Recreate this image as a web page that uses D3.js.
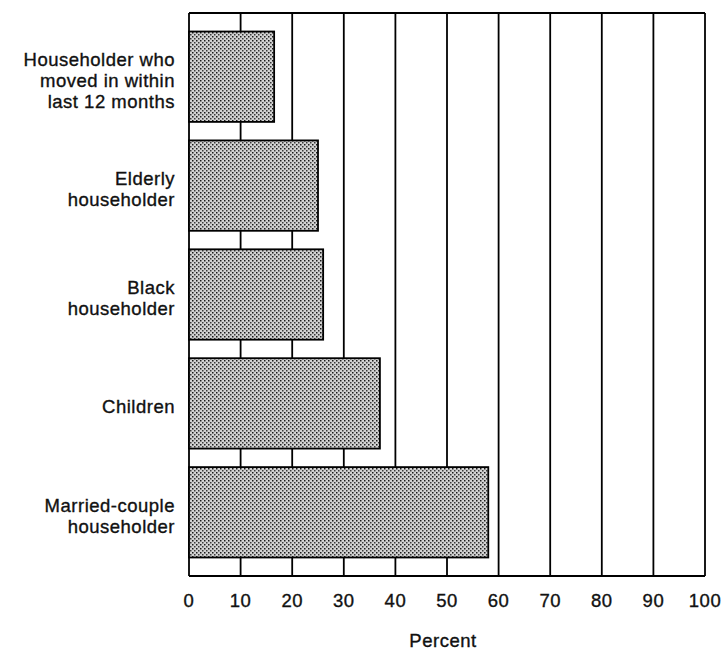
<!DOCTYPE html>
<html>
<head>
<meta charset="utf-8">
<script src="https://cdn.jsdelivr.net/npm/d3@7"></script>
<style>
  body { margin: 0; background: #fff; }
  text { font-family: "Liberation Sans", Arial, sans-serif; fill: #111; stroke: #111; stroke-width: 0.35px; }
</style>
</head>
<body>
<div id="chart"></div>
<script>
var categories = [
  ['Householder who', 'moved in within', 'last 12 months'],
  ['Elderly', 'householder'],
  ['Black', 'householder'],
  ['Children'],
  ['Married-couple', 'householder']
]
var values = [16.5, 25, 26, 37, 58]
var ticks = [0, 10, 20, 30, 40, 50, 60, 70, 80, 90, 100]

var width = 724, height = 651
var margin = {top: 13, right: 19, bottom: 75, left: 189}

var svg = d3.select('#chart').append('svg')
  .attr('width', width).attr('height', height)

var defs = svg.append('defs')
var pat = defs.append('pattern')
  .attr('id', 'stipple')
  .attr('patternUnits', 'userSpaceOnUse')
  .attr('width', 4).attr('height', 4)
pat.append('rect').attr('width', 4).attr('height', 4).attr('fill', '#d2d2d2')
pat.append('rect').attr('x', 0).attr('y', 0).attr('width', 1.5).attr('height', 1.5).attr('fill', '#1a1a1a')
pat.append('rect').attr('x', 2).attr('y', 2).attr('width', 1.5).attr('height', 1.5).attr('fill', '#3a3a3a')

var x = d3.scaleLinear().domain([0, 100]).range([margin.left, width - margin.right])
var y = d3.scaleBand().domain(d3.range(values.length))
  .range([margin.top, height - margin.bottom])
  .paddingInner(0.17).paddingOuter(0.17)

// grid lines
svg.append('g').selectAll('line').data(ticks).join('line')
  .attr('x1', d => x(d)).attr('x2', d => x(d))
  .attr('y1', margin.top).attr('y2', height - margin.bottom)
  .attr('stroke', '#000').attr('stroke-width', 1.8)

svg.append('line')
  .attr('x1', x(0)).attr('x2', x(100))
  .attr('y1', margin.top).attr('y2', margin.top)
  .attr('stroke', '#000').attr('stroke-width', 1.8)
svg.append('line')
  .attr('x1', x(0)).attr('x2', x(100))
  .attr('y1', height - margin.bottom).attr('y2', height - margin.bottom)
  .attr('stroke', '#000').attr('stroke-width', 1.8)

// bars
svg.append('g').selectAll('rect').data(values).join('rect')
  .attr('x', x(0))
  .attr('y', (d, i) => y(i))
  .attr('width', d => x(d) - x(0))
  .attr('height', y.bandwidth())
  .attr('fill', 'url(#stipple)')
  .attr('stroke', '#000').attr('stroke-width', 1.8)

// x tick labels
svg.append('g').selectAll('text').data(ticks).join('text')
  .attr('x', d => x(d))
  .attr('y', 607)
  .attr('text-anchor', 'middle')
  .attr('font-size', 18.5)
  .attr('letter-spacing', 0.5)
  .text(d => d)

svg.append('text')
  .attr('x', 443).attr('y', 647)
  .attr('text-anchor', 'middle')
  .attr('font-size', 18.5)
  .attr('letter-spacing', 0.5)
  .text('Percent')

// category labels
var labels = svg.append('g').selectAll('text').data(categories).join('text')
  .attr('text-anchor', 'end')
  .attr('font-size', 18.5)
  .attr('letter-spacing', 0.5)
  .attr('transform', (d, i) => 'translate(175,' + (y(i) + y.bandwidth() / 2 - (d.length - 1) * 10.5 + 10) + ')')
labels.selectAll('tspan').data(d => d).join('tspan')
  .attr('x', 0)
  .attr('dy', (d, i) => i ? 21 : 0)
  .text(d => d)
</script>
</body>
</html>
